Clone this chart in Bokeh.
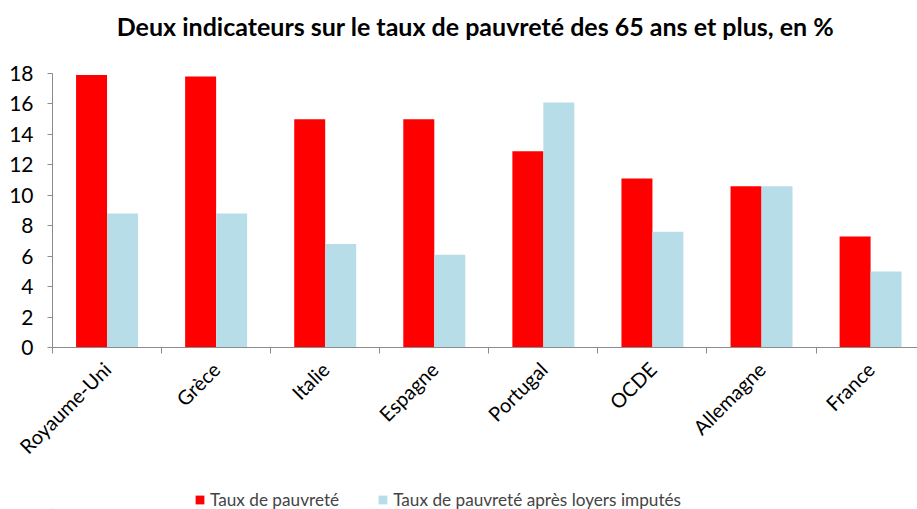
import math
from bokeh.plotting import figure
from bokeh.layouts import column
from bokeh.models import (Range1d, FixedTicker, ColumnDataSource, Legend, LegendItem)
from bokeh.core.properties import value
from bokeh.embed import file_html
from bokeh.resources import INLINE

title_text = "Deux indicateurs sur le taux de pauvreté des 65 ans et plus, en %"
categories = ["Royaume-Uni", "Grèce", "Italie", "Espagne", "Portugal", "OCDE", "Allemagne", "France"]
taux_pauvrete = [17.9, 17.8, 15.0, 15.0, 12.9, 11.1, 10.6, 7.3]
taux_apres_loyers = [8.8, 8.8, 6.8, 6.1, 16.1, 7.6, 10.6, 5.0]
y_ticks = [0, 2, 4, 6, 8, 10, 12, 14, 16, 18]
series_names = ["Taux de pauvreté", "Taux de pauvreté après loyers imputés"]
colors = ["#FF0000", "#B7DDE8"]

FONT = "Lato"
AXIS_COLOR = "#8C8C8C"
W = 917
LEFT = 52


def strip(h):
    f = figure(width=W, height=h, output_backend="svg", toolbar_location=None,
               x_range=Range1d(LEFT, W), y_range=Range1d(0, h),
               x_axis_type=None, y_axis_type=None,
               min_border_left=LEFT, min_border_right=0,
               min_border_top=0, min_border_bottom=0)
    f.outline_line_color = None
    f.xgrid.visible = False
    f.ygrid.visible = False
    return f


# title strip
TH = 55
pt = strip(TH)
pt.text(x=[475], y=[TH - 25], text=[title_text], text_align="center",
        text_baseline="middle", text_font=value(FONT), text_font_size="25px",
        text_font_style="bold", text_color="#000000")

n = len(categories)
centers = [i + 0.5 for i in range(n)]
bar_w = 0.284

p = figure(width=W, height=477 - TH, output_backend="svg", toolbar_location=None,
           x_range=Range1d(0, 7.93), y_range=Range1d(0, 18),
           min_border_left=LEFT, min_border_right=0, min_border_top=73 - TH,
           min_border_bottom=130)
p.outline_line_color = None
p.xgrid.visible = False
p.ygrid.visible = False

src1 = ColumnDataSource(dict(x=[c - bar_w / 2 for c in centers], top=taux_pauvrete))
src2 = ColumnDataSource(dict(x=[c + bar_w / 2 for c in centers], top=taux_apres_loyers))
p.vbar(x="x", top="top", width=bar_w, bottom=0, source=src1,
       fill_color=colors[0], line_color=None)
p.vbar(x="x", top="top", width=bar_w, bottom=0, source=src2,
       fill_color=colors[1], line_color=None)

# x axis
xa = p.xaxis[0]
xa.ticker = FixedTicker(ticks=centers, minor_ticks=list(range(n + 1)))
xa.major_label_overrides = {c: cat for c, cat in zip(centers, categories)}
xa.major_label_orientation = math.pi / 4
xa.major_tick_line_color = None
xa.minor_tick_line_color = AXIS_COLOR
xa.minor_tick_out = 6
xa.minor_tick_in = 0
xa.axis_line_color = AXIS_COLOR
xa.major_label_text_font = FONT
xa.major_label_text_font_size = "20px"
xa.major_label_text_color = "#000000"
xa.major_label_standoff = 12

# y axis
ya = p.yaxis[0]
ya.ticker = FixedTicker(ticks=y_ticks)
ya.minor_tick_line_color = None
ya.major_tick_line_color = AXIS_COLOR
ya.major_tick_out = 5
ya.major_tick_in = 0
ya.axis_line_color = AXIS_COLOR
ya.major_label_text_font = FONT
ya.major_label_text_font_size = "21px"
ya.major_label_text_color = "#000000"
ya.major_label_standoff = 14

# legend strip
LH = 32
pl = strip(LH)
d1 = pl.vbar(x=[-1000], top=[1], width=1, fill_color=colors[0], line_color=None)
d2 = pl.vbar(x=[-1000], top=[1], width=1, fill_color=colors[1], line_color=None)
legend = Legend(items=[LegendItem(label=series_names[0], renderers=[d1]),
                       LegendItem(label=series_names[1], renderers=[d2])],
                orientation="horizontal", location=(194 - LEFT, -1),
                padding=0, margin=0, spacing=38, label_standoff=5,
                glyph_width=11, glyph_height=11,
                border_line_color=None, background_fill_alpha=0,
                label_text_font=FONT, label_text_font_size="17.2px")
pl.add_layout(legend, "center")

open("out.html", "w").write(file_html(column(pt, p, pl, spacing=0), INLINE))
